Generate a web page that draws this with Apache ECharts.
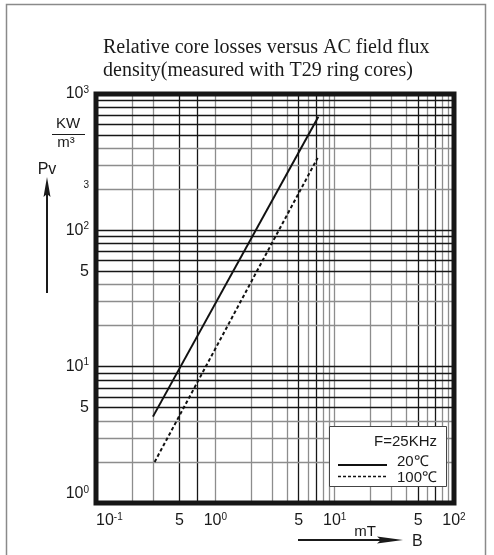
<!DOCTYPE html>
<html><head><meta charset="utf-8">
<script src="https://cdn.jsdelivr.net/npm/echarts@6/dist/echarts.min.js"></script>
<style>html,body{margin:0;padding:0;background:#fff;}#c{width:494px;height:555px;}</style>
</head><body><div id="c"></div>
<script>
// ---- text ----
const titleLines = ['Relative core losses versus AC field flux', 'density(measured with T29 ring cores)'];
const legendTitle = 'F=25KHz';
const seriesNames = ['20\u2103', '100\u2103'];
const yUnitTop = 'KW';
const yUnitBottom = 'm\u00B3';
const yName = 'Pv';
const xUnit = 'mT';
const xName = 'B';

// ---- axes ----
const xMin = 0.1, xMax = 100;
const yMin = 1, yMax = 1000;
const xTickValues = [0.1, 0.5, 1, 5, 10, 50, 100];
const xTickBase   = ['10', '5', '10', '5', '10', '5', '10'];
const xTickSup    = ['-1', '', '0', '', '1', '', '2'];
const yTickValues = [1, 5, 10, 50, 100, 200, 1000];
const yTickBase   = ['10', '5', '10', '5', '10', '', '10'];
const yTickSup    = ['0', '', '1', '', '2', '3', '3'];
const xGridValues = [0.2,0.3,0.5,0.7,1,2,3,4,5,6,7,8,9,10,20,30,40,50,60,70,80,90];
const yGridValues = [2,3,4,5,6,7,8,9,10,20,30,40,50,60,70,80,90,100,200,300,400,500,600,700,800,900];

// ---- data (B in mT, Pv in kW/m3) ----
const b20 = [0.30, 7.3];
const pv20 = [4.3, 680];
const b100 = [0.31, 7.2];
const pv100 = [2.0, 340];

const BLACK = '#161616', GRAY = '#8d8d8d';
function mult(v){ const e = Math.floor(Math.log10(v) + 1e-9); return Math.round(v / Math.pow(10, e)); }
const xGridColor = v => ([5,7].includes(mult(v)) ? BLACK : GRAY);
const yGridColor = v => ([2,3,4].includes(mult(v)) ? GRAY : BLACK);

function findIdx(arr, v){
  for (let i = 0; i < arr.length; i++) if (Math.abs(Math.log10(arr[i]) - Math.log10(v)) < 1e-6) return i;
  return -1;
}
function fmt(vals, base, sup){
  return function(v){
    const i = findIdx(vals, v);
    if (i < 0) return '';
    let s = '';
    if (base[i]) s += '{b|' + base[i] + '}';
    if (sup[i]) s += '{s|' + sup[i] + '}';
    return s;
  };
}
const richLab = {
  b: {fontSize: 16, fontFamily: '"Liberation Sans", Arial, sans-serif', color: '#1a1a1a', lineHeight: 18},
  s: {fontSize: 10, fontFamily: '"Liberation Sans", Arial, sans-serif', color: '#1a1a1a', verticalAlign: 'top', lineHeight: 18}
};

const chart = echarts.init(document.getElementById('c'), null, {renderer: 'canvas'});
const font = '"Liberation Sans", Arial, sans-serif';
const titleFont = '20px "Liberation Serif", "Times New Roman", serif';
const option = {
  animation: false,
  grid: {left: 96, top: 94, width: 358, height: 409, show: true, borderColor: BLACK, borderWidth: 5, backgroundColor: 'transparent', z: 10},
  xAxis: {
    type: 'log', logBase: 10, min: xMin, max: xMax,
    axisLine: {show: false}, axisTick: {show: false}, splitLine: {show: false}, minorSplitLine: {show: false},
    axisLabel: {customValues: xTickValues, formatter: fmt(xTickValues, xTickBase, xTickSup), rich: richLab, margin: 9, alignMinLabel: 'left', hideOverlap: false, showMinLabel: true, showMaxLabel: true}
  },
  yAxis: {
    type: 'log', logBase: 10, min: yMin, max: yMax,
    axisLine: {show: false}, axisTick: {show: false}, splitLine: {show: false},
    axisLabel: {customValues: yTickValues, formatter: fmt(yTickValues, yTickBase, yTickSup), rich: richLab, margin: 7, verticalAlignMinLabel: 'bottom', hideOverlap: false, showMinLabel: true, showMaxLabel: true}
  },
  series: [
    {
      type: 'line', data: [], z: 1, silent: true,
      markLine: {
        silent: true, symbol: ['none', 'none'], label: {show: false}, animation: false,
        emphasis: {disabled: true},
        data: xGridValues.map(v => ({xAxis: v, lineStyle: {color: xGridColor(v), width: 1.3, type: 'solid'}}))
          .concat(yGridValues.map(v => ({yAxis: v, lineStyle: {color: yGridColor(v), width: 1.3, type: 'solid'}})))
      }
    },
    {
      name: seriesNames[0], type: 'line', z: 5, symbol: 'none', silent: true,
      data: b20.map((b, i) => [b, pv20[i]]),
      lineStyle: {color: '#111', width: 2}
    },
    {
      name: seriesNames[1], type: 'line', z: 5, symbol: 'none', silent: true,
      data: b100.map((b, i) => [b, pv100[i]]),
      lineStyle: {color: '#111', width: 2, type: [3.5, 2.5]}
    }
  ],
  graphic: [
    {type: 'rect', z: 100, silent: true, shape: {x: 6.5, y: 4.5, width: 479, height: 570}, style: {fill: null, stroke: '#8a8a8a', lineWidth: 1.5}},
    {type: 'text', z: 100, style: {text: titleLines[0], x: 103, y: 48, verticalAlign: 'middle', font: titleFont, fill: '#1a1a1a'}},
    {type: 'text', z: 100, style: {text: titleLines[1], x: 103, y: 71, verticalAlign: 'middle', font: titleFont, fill: '#1a1a1a'}},
    {type: 'text', z: 100, style: {text: yUnitTop, x: 68, y: 124, align: 'center', verticalAlign: 'middle', font: '15px ' + font, fill: '#1a1a1a'}},
    {type: 'line', z: 100, shape: {x1: 52, y1: 134.5, x2: 85, y2: 134.5}, style: {stroke: '#1a1a1a', lineWidth: 1.2}},
    {type: 'text', z: 100, style: {text: yUnitBottom, x: 66, y: 143, align: 'center', verticalAlign: 'middle', font: '15px ' + font, fill: '#1a1a1a'}},
    {type: 'text', z: 100, style: {text: yName, x: 47, y: 170, align: 'center', verticalAlign: 'middle', font: '16px ' + font, fill: '#1a1a1a'}},
    {type: 'line', z: 100, shape: {x1: 47, y1: 293, x2: 47, y2: 190}, style: {stroke: '#1a1a1a', lineWidth: 2}},
    {type: 'polygon', z: 100, shape: {points: [[47, 177], [43.5, 197], [47, 194], [50.5, 197]]}, style: {fill: '#1a1a1a'}},
    {type: 'text', z: 100, style: {text: xUnit, x: 365, y: 532, align: 'center', verticalAlign: 'middle', font: '15px ' + font, fill: '#1a1a1a'}},
    {type: 'line', z: 100, shape: {x1: 298, y1: 540, x2: 390, y2: 540}, style: {stroke: '#1a1a1a', lineWidth: 2}},
    {type: 'polygon', z: 100, shape: {points: [[403, 540], [377, 536.5], [381, 540], [377, 543.5]]}, style: {fill: '#1a1a1a'}},
    {type: 'text', z: 100, style: {text: xName, x: 412, y: 542, align: 'left', verticalAlign: 'middle', font: '16px ' + font, fill: '#1a1a1a'}},
    // legend
    {type: 'rect', z: 100, shape: {x: 329.5, y: 426.5, width: 117, height: 60}, style: {fill: '#fff', stroke: '#444', lineWidth: 1}},
    {type: 'text', z: 101, style: {text: legendTitle, x: 437, y: 442, align: 'right', verticalAlign: 'middle', font: '15px ' + font, fill: '#1a1a1a'}},
    {type: 'line', z: 101, shape: {x1: 338, y1: 465, x2: 387, y2: 465}, style: {stroke: '#111', lineWidth: 2}},
    {type: 'text', z: 101, style: {text: seriesNames[0], x: 397, y: 462, align: 'left', verticalAlign: 'middle', font: '15px ' + font, fill: '#1a1a1a'}},
    {type: 'line', z: 101, shape: {x1: 338, y1: 476.5, x2: 387, y2: 476.5}, style: {stroke: '#111', lineWidth: 1.6, lineDash: [3, 2]}},
    {type: 'text', z: 101, style: {text: seriesNames[1], x: 397, y: 478, align: 'left', verticalAlign: 'middle', font: '15px ' + font, fill: '#1a1a1a'}}
  ]
};
chart.setOption(option);
</script>
</body></html>
